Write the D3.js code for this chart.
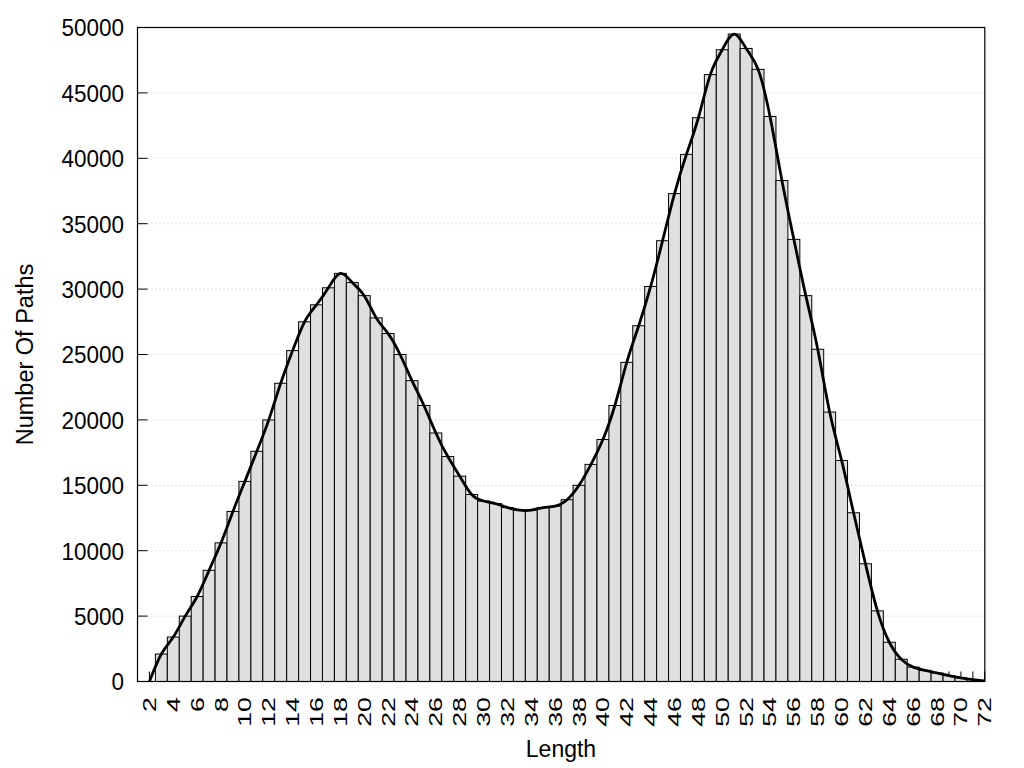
<!DOCTYPE html>
<html>
<head>
<meta charset="utf-8">
<script src="https://cdn.jsdelivr.net/npm/d3@7"></script>
<style>
  html, body { margin: 0; padding: 0; background: #fff; }
  svg { display: block; }
  text { font-family: "Liberation Sans", Arial, sans-serif; fill: #000; }
</style>
</head>
<body>
<svg id="chart" width="1024" height="768"></svg>
<script>
// ---- data ----
const lengths = d3.range(2, 73);
const pathCounts = [
  0, 2100, 3400, 5000, 6500, 8500, 10600, 13000, 15300, 17600,
  20000, 22800, 25300, 27500, 28800, 30100, 31200, 30500, 29500, 27800,
  26600, 25000, 23000, 21100, 19000, 17200, 15700, 14300, 13800, 13600,
  13300, 13100, 13100, 13300, 13400, 13900, 15000, 16600, 18500, 21100,
  24400, 27200, 30200, 33700, 37300, 40300, 43100, 46400, 48300, 49500,
  48400, 46800, 43200, 38300, 33800, 29500, 25400, 20600, 16900, 12900,
  9000, 5400, 3000, 1700, 1100, 850, 650, 450, 280, 150, 50
];
const yTicks = [0, 5000, 10000, 15000, 20000, 25000, 30000, 35000, 40000, 45000, 50000];
const xTickLabels = d3.range(2, 73, 2);
const xLabel = "Length";
const yLabel = "Number Of Paths";

const data = lengths.map((l, i) => ({ len: l, count: pathCounts[i] }));

// ---- layout ----
const pL = 137.5, pR = 984.8, pT = 27.5, pB = 681.5;
const svg = d3.select("#chart");

const x = d3.scaleLinear().domain([1, 72]).range([pL, pR]);
const y = d3.scaleLinear().domain([0, 50000]).range([pB, pT]);

svg.append("defs").append("clipPath").attr("id", "clip")
  .append("rect").attr("x", pL).attr("y", pT).attr("width", pR - pL).attr("height", pB - pT);

// gridlines
svg.append("g").selectAll("line")
  .data(yTicks.filter(t => t > 0 && t < 50000))
  .join("line")
  .attr("x1", pL + 10).attr("x2", pR)
  .attr("y1", d => y(d)).attr("y2", d => y(d))
  .attr("stroke", "#c4c4c4").attr("stroke-width", 1)
  .attr("stroke-dasharray", "1,3");

// inward x ticks (behind bars)
svg.append("g").selectAll("line")
  .data(lengths)
  .join("line")
  .attr("x1", d => x(d)).attr("x2", d => x(d))
  .attr("y1", pB).attr("y2", pB - 10)
  .attr("stroke", "#000").attr("stroke-width", 1);

// bars
const g = svg.append("g").attr("clip-path", "url(#clip)");
g.selectAll("rect")
  .data(data.filter(d => d.count > 0))
  .join("rect")
  .attr("x", d => x(d.len - 0.5))
  .attr("width", d => x(d.len + 0.5) - x(d.len - 0.5))
  .attr("y", d => y(d.count))
  .attr("height", d => y(0) - y(d.count))
  .attr("fill", "#dfdfdf")
  .attr("stroke", "#000")
  .attr("stroke-width", 1);

// smooth curve
const line = d3.line().x(d => x(d.len)).y(d => y(d.count)).curve(d3.curveNatural);
g.append("path")
  .datum(data)
  .attr("d", line)
  .attr("fill", "none")
  .attr("stroke", "#000")
  .attr("stroke-width", 2.8)
  .attr("stroke-linejoin", "round");

// y ticks (inward)
svg.append("g").selectAll("line")
  .data(yTicks)
  .join("line")
  .attr("x1", pL).attr("x2", pL + 10)
  .attr("y1", d => y(d)).attr("y2", d => y(d))
  .attr("stroke", "#000").attr("stroke-width", 1);

// frame
svg.append("rect")
  .attr("x", pL).attr("y", pT)
  .attr("width", pR - pL).attr("height", pB - pT)
  .attr("fill", "none").attr("stroke", "#000").attr("stroke-width", 1.2);

// y tick labels
svg.append("g").selectAll("text")
  .data(yTicks)
  .join("text")
  .attr("text-anchor", "end")
  .attr("transform", d => `translate(124, ${y(d) + 8.8}) scale(1, 1.1)`)
  .style("font-size", "22.5px")
  .text(d => d);

// x tick labels (rotated)
svg.append("g").selectAll("text")
  .data(xTickLabels)
  .join("text")
  .attr("text-anchor", "end")
  .attr("transform", d => `translate(${x(d) + 6.5}, 697) rotate(-90) scale(1.45, 1)`)
  .style("font-size", "18.5px")
  .text(d => d);

// axis titles
svg.append("text")
  .attr("x", 561).attr("y", 757)
  .attr("text-anchor", "middle")
  .style("font-size", "23px")
  .text(xLabel);

svg.append("text")
  .attr("transform", `translate(33, ${(pT + pB) / 2}) rotate(-90)`)
  .attr("text-anchor", "middle")
  .style("font-size", "23.5px")
  .text(yLabel);
</script>
</body>
</html>
